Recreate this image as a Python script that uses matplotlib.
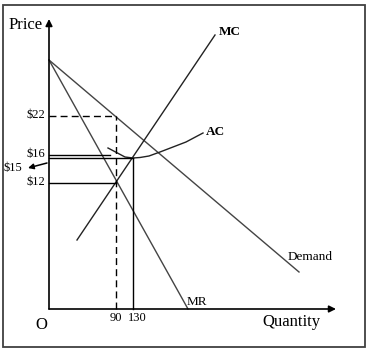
import matplotlib
matplotlib.use("Agg")
import matplotlib.pyplot as plt
from matplotlib.patches import Rectangle

plt.rcParams['font.family'] = ['Liberation Serif', 'DejaVu Serif']

# diagram coordinates (schematic units, origin at O)
demand_x = [0, 250]
demand_y = [249, 37]
mr_x = [0, 139]
mr_y = [249, 0]
mc_x = [28, 166]
mc_y = [69, 274]
ac_x = [59, 76, 84, 91, 100, 111, 124, 137, 154]
ac_y = [161, 152, 151, 151.5, 153, 157, 162, 167, 176]

q_labels = ['90', '130']
q_pos = [67, 84]
p_labels = ['$22', '$16', '$12']
p_pos = [193, 154, 126]
p15_pos = 151

fig = plt.figure(figsize=(3.72, 3.52), dpi=100)
ax = fig.add_axes([0, 0, 1, 1])
ax.set_xlim(-49, 323)
ax.set_ylim(-43, 309)
ax.axis('off')

fig.add_artist(Rectangle((3 / 372, 5 / 352), 362 / 372, 342 / 352,
                         transform=fig.transFigure, fill=False,
                         edgecolor='#404040', lw=1.3))

lc = '#444444'
small = 9.5
tick_fs = 9

# axes with arrows
ax.annotate('', xy=(0, 290), xytext=(0, 0),
            arrowprops=dict(arrowstyle='-|>', color='black', lw=1.2,
                            mutation_scale=10, shrinkA=0, shrinkB=0))
ax.annotate('', xy=(287, 0), xytext=(0, 0),
            arrowprops=dict(arrowstyle='-|>', color='black', lw=1.2,
                            mutation_scale=10, shrinkA=0, shrinkB=0))

# curves
ax.plot(demand_x, demand_y, color=lc, lw=1)
ax.plot(mr_x, mr_y, color=lc, lw=1)
ax.plot(mc_x, mc_y, color='#222222', lw=1)
ax.plot(ac_x, ac_y, color='#222222', lw=1)

# guide lines
ax.plot([0, q_pos[0]], [p_pos[0], p_pos[0]], color='black', lw=1, ls=(0, (5, 3)))
ax.plot([q_pos[0], q_pos[0]], [0, p_pos[0]], color='black', lw=1, ls=(0, (5, 3)))
ax.plot([0, 61], [p_pos[1], p_pos[1]], color='black', lw=1)
ax.plot([0, q_pos[1]], [p15_pos, p15_pos], color='black', lw=1)
ax.plot([q_pos[1], q_pos[1]], [0, p15_pos], color='black', lw=1)
ax.plot([0, q_pos[0]], [p_pos[2], p_pos[2]], color='black', lw=1)

# tick labels
ax.text(q_pos[0], -9, q_labels[0], fontsize=tick_fs, ha='center', va='center')
ax.text(q_pos[1] + 4, -9, q_labels[1], fontsize=tick_fs, ha='center', va='center')
for lab, y in zip(p_labels, p_pos):
    ax.text(-4, y + 1, lab, fontsize=tick_fs, ha='right', va='center')
ax.text(-36, 141, '$15', fontsize=tick_fs, ha='center', va='center')
ax.annotate('', xy=(-21, 141), xytext=(-2, 146),
            arrowprops=dict(arrowstyle='-|>', color='black', lw=1.1,
                            mutation_scale=8, shrinkA=0, shrinkB=0))

# axis titles and curve labels
ax.text(-6, 284, 'Price', fontsize=12, ha='right', va='center')
ax.text(-8, -16, 'O', fontsize=12, ha='center', va='center')
ax.text(242, -13, 'Quantity', fontsize=12, ha='center', va='center')
ax.text(170, 277, 'MC', fontsize=small, fontweight='bold', ha='left', va='center')
ax.text(157, 177, 'AC', fontsize=small, fontweight='bold', ha='left', va='center')
ax.text(239, 52, 'Demand', fontsize=small, ha='left', va='center')
ax.text(138, 7, 'MR', fontsize=small, ha='left', va='center')

fig.savefig('out.png', dpi=100)
